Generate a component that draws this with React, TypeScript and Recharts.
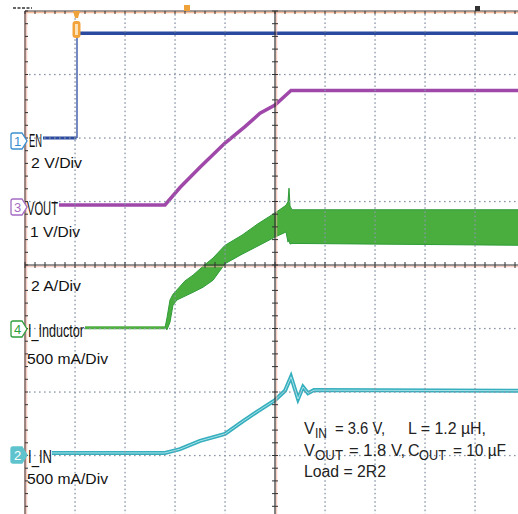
import React from "react";
import { ComposedChart, Line, Area, XAxis, YAxis } from "recharts";

// time in divisions (0..10), level in divisions (-4..4, 0 = centre line)
const EN_LOW_T = [0.36, 1.03];
const EN_LOW_V = [2.0, 2.0];
const EN_EDGE_T = [1.04, 1.04];
const EN_EDGE_V = [2.0, 3.65];
const EN_HIGH_T = [1.1, 10];
const EN_HIGH_V = [3.65, 3.65];

const VOUT_T = [0.68, 2.8, 3.1, 3.5, 4.0, 4.4, 4.7, 5.0, 5.32, 10];
const VOUT_V = [0.945, 0.945, 1.22, 1.54, 1.92, 2.18, 2.39, 2.52, 2.75, 2.75];

const IND_FLAT_T = [1.2, 2.8];
const IND_FLAT_V = [-0.99, -0.99];
const IND_T = [2.8, 2.84, 2.9, 2.96, 3.04, 3.2, 3.36, 3.56, 3.76, 4.0, 4.34, 4.66, 5.0, 5.22, 5.26, 5.28, 5.3, 5.34, 10];
const IND_HI = [-0.99, -0.83, -0.55, -0.46, -0.39, -0.25, -0.16, -0.02, 0.11, 0.31, 0.47, 0.65, 0.82, 0.94, 1.0, 1.21, 0.93, 0.87, 0.87];
const IND_LO = [-0.99, -1.02, -0.9, -0.63, -0.55, -0.49, -0.43, -0.35, -0.24, 0.02, 0.17, 0.3, 0.44, 0.52, 0.36, 0.4, 0.33, 0.34, 0.31];

const IIN_T = [0.54, 2.8, 3.1, 3.5, 4.0, 4.34, 4.66, 5.0, 5.2, 5.32, 5.46, 5.56, 5.66, 5.78, 10];
const IIN_V = [-2.96, -2.96, -2.9, -2.77, -2.66, -2.47, -2.3, -2.13, -1.98, -1.76, -2.11, -1.92, -2.02, -1.97, -1.98];

const GRID_X = [1, 2, 3, 4, 6, 7, 8, 9];
const GRID_Y = [-3, -2, -1, 1, 2, 3];

type Row = { t: number; [k: string]: any };

function addSeries(rows: Row[], key: string, ts: number[], vs: any[]) {
  ts.forEach((t, i) => rows.push({ t, [key]: vs[i] }));
}

const rows: Row[] = [];
addSeries(rows, "enLow", EN_LOW_T, EN_LOW_V);
addSeries(rows, "enEdge", EN_EDGE_T, EN_EDGE_V);
addSeries(rows, "enHigh", EN_HIGH_T, EN_HIGH_V);
addSeries(rows, "vout", VOUT_T, VOUT_V);
addSeries(rows, "indFlat", IND_FLAT_T, IND_FLAT_V);
addSeries(rows, "iin", IIN_T, IIN_V);
rows.sort((a, b) => a.t - b.t);

const bandRows: Row[] = IND_T.map((t, i) => ({ t, ind: [IND_LO[i], IND_HI[i]] }));

// graticule geometry (page pixels)
const L = 25;
const T = 11;
const DW = 50;
const DH = 63.5;
const CX = 275;
const CY = 265;
const MARGIN = { top: 11, left: 25, right: 5, bottom: 11 };

function Marker({ y, color, filled, label }: { y: number; color: string; filled?: boolean; label: string }) {
  const d = `M13,${y - 8} H22 L27,${y} L22,${y + 8} H13 Q11,${y + 8} 11,${y + 6} V${y - 6} Q11,${y - 8} 13,${y - 8} Z`;
  return (
    <g>
      <path d={d} fill={filled ? color : "#fff"} stroke={color} strokeWidth={1.3} />
      <text x={17.5} y={y + 5} fontSize={13} textAnchor="middle" fill={filled ? "#fff" : color}>
        {label}
      </text>
    </g>
  );
}

const layer: React.CSSProperties = { position: "absolute", left: 0, top: 0 };

function Overlay() {
  const ticks: React.ReactNode[] = [];
  const dots: React.ReactNode[] = [];
  for (let i = 0; i <= 50; i++) {
    const x = L + i * 10;
    ticks.push(<line key={"tt" + i} x1={x} x2={x} y1={T} y2={T + 3} />);
    ticks.push(<line key={"ch" + i} x1={x} x2={x} y1={CY - 3} y2={CY + 3} />);
  }
  for (let j = 0; j <= 40; j++) {
    const y = T + (j * DH) / 5;
    ticks.push(<line key={"lt" + j} x1={L} x2={L + 3} y1={y} y2={y} />);
    ticks.push(<line key={"cv" + j} x1={CX - 3} x2={CX + 3} y1={y} y2={y} />);
  }
  // dotted graticule lines
  GRID_X.forEach((k) => {
    const x = L + k * DW;
    for (let y = T + 3; y < 520; y += 4.2) {
      dots.push(<rect key={`dx${k}-${y}`} x={x - 0.6} y={y} width={1.3} height={1.6} />);
    }
  });
  GRID_Y.forEach((k) => {
    const y = CY - k * DH;
    for (let x = L + 4; x < 525; x += 5) {
      dots.push(<rect key={`dy${k}-${x}`} x={x} y={y - 0.6} width={1.6} height={1.3} />);
    }
  });
  const narrow = "'Liberation Sans Narrow', 'Liberation Sans', Arial, sans-serif";
  return (
    <svg width={518} height={514} style={{ ...layer, pointerEvents: "none" }} fontFamily="'Liberation Sans', Arial, sans-serif">
      <g fill="#8a96a8">{dots}</g>
      {/* halos */}
      <line x1={L} x2={525} y1={T + 1.5} y2={T + 1.5} stroke="#f4a070" strokeWidth={1.5} opacity={0.7} />
      <line x1={L + 1.5} x2={L + 1.5} y1={T} y2={520} stroke="#f0b0a0" strokeWidth={1.5} opacity={0.6} />
      <line x1={L} x2={525} y1={CY + 1.5} y2={CY + 1.5} stroke="#f3b0a0" strokeWidth={1.5} opacity={0.6} />
      <line x1={CX + 1.5} x2={CX + 1.5} y1={T} y2={520} stroke="#f3b0a0" strokeWidth={1.5} opacity={0.6} />
      {/* borders and centre lines */}
      <line x1={L} x2={525} y1={T} y2={T} stroke="#4a3a36" strokeWidth={1.2} />
      <line x1={L} x2={L} y1={T} y2={520} stroke="#5a3a34" strokeWidth={1.2} />
      <line x1={L} x2={525} y1={CY} y2={CY} stroke="#333" strokeWidth={1.2} />
      <line x1={CX} x2={CX} y1={T} y2={520} stroke="#333" strokeWidth={1.2} />
      <g stroke="#333" strokeWidth={1}>{ticks}</g>

      {/* corner and top markers */}
      <line x1={13} x2={32} y1={8} y2={8} stroke="#666" strokeWidth={2} strokeDasharray="3 1.5" />
      <rect x={184} y={5} width={6} height={6} fill="#f0a23a" />
      <rect x={475} y={6} width={5} height={5} fill="#333" />
      <path d="M73,11 H80 L78,18 H75 Z" fill="#f0a23a" />
      <rect x={72.5} y={21} width={8} height={17} rx={3} fill="#f2a33c" />
      <rect x={75} y={24} width={3} height={11} fill="#fbe2b8" />

      {/* channel markers */}
      <Marker y={141} color="#3b8fd0" label="1" />
      <Marker y={207} color="#a46cc4" label="3" />
      <Marker y={329} color="#2f9e3c" label="4" />
      <Marker y={455} color="#5ec3cd" filled label="2" />

      <g fill="#111" fontFamily={narrow}>
        <text x={29} y={147} fontSize={19} textLength={13} lengthAdjust="spacingAndGlyphs">EN</text>
        <text x={27} y={215} fontSize={19} textLength={31} lengthAdjust="spacingAndGlyphs">VOUT</text>
        <text x={28} y={337} fontSize={19} textLength={56} lengthAdjust="spacingAndGlyphs">I_Inductor</text>
        <text x={28} y={463} fontSize={19} textLength={24} lengthAdjust="spacingAndGlyphs">I_IN</text>
      </g>
      <g fill="#111" fontSize={15}>
        <text x={31} y={168} textLength={51} lengthAdjust="spacingAndGlyphs">2 V/Div</text>
        <text x={30} y={237} textLength={50} lengthAdjust="spacingAndGlyphs">1 V/Div</text>
        <text x={31} y={291} textLength={50} lengthAdjust="spacingAndGlyphs">2 A/Div</text>
        <text x={27} y={364} textLength={81} lengthAdjust="spacingAndGlyphs">500 mA/Div</text>
        <text x={27} y={484} textLength={81} lengthAdjust="spacingAndGlyphs">500 mA/Div</text>
      </g>

      <g fill="#222" fontSize={16}>
        <text x={304} y={434}>V</text>
        <text x={315} y={438} fontSize={14} textLength={12} lengthAdjust="spacingAndGlyphs">IN</text>
        <text x={335} y={434} textLength={50} lengthAdjust="spacingAndGlyphs">= 3.6 V,</text>
        <text x={408} y={434} textLength={78} lengthAdjust="spacingAndGlyphs">L = 1.2 µH,</text>

        <text x={304} y={456}>V</text>
        <text x={315} y={460} fontSize={14} textLength={28} lengthAdjust="spacingAndGlyphs">OUT</text>
        <text x={349} y={456} textLength={56} lengthAdjust="spacingAndGlyphs">= 1.8 V,</text>
        <text x={408} y={456}>C</text>
        <text x={419} y={460} fontSize={14} textLength={27} lengthAdjust="spacingAndGlyphs">OUT</text>
        <text x={453} y={456} textLength={53} lengthAdjust="spacingAndGlyphs">= 10 µF</text>

        <text x={304} y={477} textLength={82} lengthAdjust="spacingAndGlyphs">Load = 2R2</text>
      </g>
    </svg>
  );
}

export default function App() {
  return (
    <div
      style={{
        position: "fixed",
        left: 0,
        top: 0,
        width: 518,
        height: 514,
        overflow: "hidden",
        background: "#fff",
      }}
    >
      <div style={layer}>
        <ComposedChart width={530} height={530} data={bandRows} margin={MARGIN}>
          <XAxis dataKey="t" type="number" domain={[0, 10]} hide allowDataOverflow />
          <YAxis type="number" domain={[-4, 4]} hide allowDataOverflow />
          <Area
            dataKey="ind"
            type="linear"
            stroke="#2f9c38"
            strokeWidth={1}
            fill="#4aae3e"
            fillOpacity={1}
            dot={false}
            activeDot={false}
            isAnimationActive={false}
          />
        </ComposedChart>
      </div>
      <div style={layer}>
        <ComposedChart width={530} height={530} data={rows} margin={MARGIN}>
          <XAxis dataKey="t" type="number" domain={[0, 10]} hide allowDataOverflow />
          <YAxis type="number" domain={[-4, 4]} hide allowDataOverflow />
          <Line dataKey="indFlat" type="linear" stroke="#4fb03f" strokeWidth={3} dot={false} connectNulls isAnimationActive={false} />
          <Line dataKey="enLow" type="linear" stroke="#2a4aa0" strokeWidth={3} dot={false} connectNulls isAnimationActive={false} />
          <Line dataKey="enEdge" type="linear" stroke="#2a4aa0" strokeWidth={1.3} dot={false} connectNulls isAnimationActive={false} />
          <Line dataKey="enHigh" type="linear" stroke="#2a4aa0" strokeWidth={3.5} dot={false} connectNulls isAnimationActive={false} />
          <Line dataKey="vout" type="linear" stroke="#a048aa" strokeWidth={3.5} dot={false} connectNulls isAnimationActive={false} />
          <Line dataKey="iin" type="linear" stroke="#35aebd" strokeWidth={4} dot={false} connectNulls isAnimationActive={false} />
          <Line dataKey="iin" type="linear" stroke="#a8e2ea" strokeWidth={1} dot={false} connectNulls isAnimationActive={false} />
        </ComposedChart>
      </div>
      <Overlay />
    </div>
  );
}
